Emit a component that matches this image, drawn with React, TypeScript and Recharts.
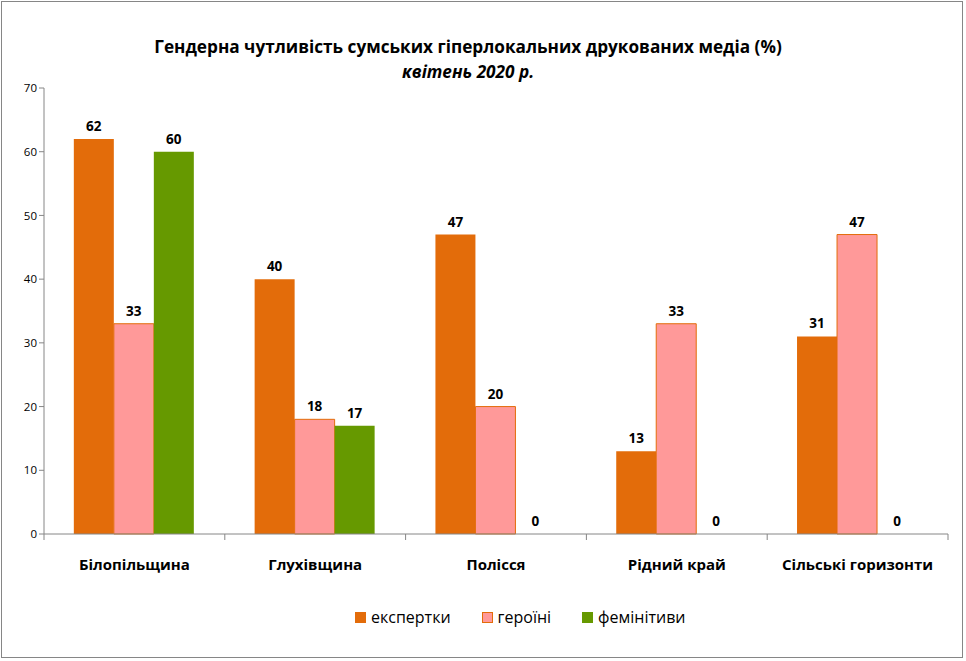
import React from "react";
import { BarChart, Bar, XAxis, YAxis, Legend, LabelList } from "recharts";

const categories = ["Білопільщина", "Глухівщина", "Полісся", "Рідний край", "Сільські горизонти"];
const experts = [62, 40, 47, 13, 31];
const heroines = [33, 18, 20, 33, 47];
const feminitives = [60, 17, 0, 0, 0];
const yTicks = [0, 10, 20, 30, 40, 50, 60, 70];
const seriesNames = ["експертки", "героїні", "фемінітиви"];
const titleLine1 = "Гендерна чутливість сумських гіперлокальних друкованих медіа (%)";
const titleLine2 = "квітень 2020 р.";

const data = categories.map((c, i) => ({
  name: c,
  e: experts[i],
  h: heroines[i],
  f: feminitives[i],
}));

const FONT = "'Open Sans', 'Noto Sans', sans-serif";
const ORANGE = "#E36C0A";
const PINK = "#FF9999";
const GREEN = "#669900";
const AXIS = "#868686";

const PLOT_LEFT = 44;
const PLOT_RIGHT = 948;
const HALF_BAND = (PLOT_RIGHT - PLOT_LEFT) / categories.length / 2;

const CatTick = (props: any) => {
  const { x, y, payload, index } = props;
  const isLast = index === categories.length - 1;
  return (
    <g>
      <line x1={x - HALF_BAND} x2={x - HALF_BAND} y1={y - 8} y2={y - 2} stroke={AXIS} />
      {isLast && <line x1={x + HALF_BAND} x2={x + HALF_BAND} y1={y - 8} y2={y - 2} stroke={AXIS} />}
      <text x={x} y={y + 28} textAnchor="middle" fontFamily={FONT} fontWeight="bold" fontSize={15} fill="#000">
        {payload.value}
      </text>
    </g>
  );
};

const colors = [ORANGE, PINK, GREEN];

const LegendContent = () => (
  <div style={{ display: "flex", justifyContent: "flex-start", gap: 31, fontFamily: FONT, fontSize: 16, color: "#000", paddingLeft: 355 }}>
    {seriesNames.map((n, i) => (
      <div key={n} style={{ display: "flex", alignItems: "center" }}>
        <span
          style={{
            display: "inline-block",
            width: i === 1 ? 9 : 11,
            height: i === 1 ? 9 : 11,
            background: colors[i],
            border: i === 1 ? `1px solid ${ORANGE}` : "none",
            marginRight: 5,
          }}
        />
        <span>{n}</span>
      </div>
    ))}
  </div>
);

const labelProps = { position: "top" as const, offset: 8, fontFamily: FONT, fontWeight: "bold", fontSize: 13.5, fill: "#000" };

export default function App() {
  return (
    <div style={{ position: "absolute", left: 0, top: 0, width: 966, height: 661, background: "#fff" }}>
      <div
        style={{
          position: "absolute",
          left: 1,
          top: 1,
          width: 962,
          height: 657,
          border: `1px solid ${AXIS}`,
          boxSizing: "border-box",
          pointerEvents: "none",
        }}
      />
      <div
        style={{
          position: "absolute",
          left: 0,
          width: 936,
          top: 34,
          textAlign: "center",
          fontFamily: FONT,
          fontWeight: "bold",
          fontSize: 17.2,
          lineHeight: "25px",
          color: "#000",
        }}
      >
        <div>{titleLine1}</div>
        <div style={{ fontStyle: "italic" }}>{titleLine2}</div>
      </div>
      <BarChart
        width={966}
        height={661}
        data={data}
        margin={{ top: 88, right: 18, left: 0, bottom: 56 }}
        barCategoryGap="16.5%"
        barGap={0}
        style={{ position: "absolute", left: 0, top: 0 }}
      >
        <YAxis
          width={44}
          domain={[0, 70]}
          ticks={yTicks}
          interval={0}
          axisLine={{ stroke: AXIS }}
          tickLine={{ stroke: AXIS }}
          tickSize={5}
          tick={{ fontFamily: FONT, fontSize: 11.5, fill: "#000" }}
        />
        <XAxis
          dataKey="name"
          height={45}
          interval={0}
          axisLine={{ stroke: AXIS }}
          tickLine={false}
          tick={<CatTick />}
        />
        <Legend
          content={<LegendContent />}
          wrapperStyle={{ top: 606, left: 0, width: 966, height: 26 }}
        />
        <Bar dataKey="e" name={seriesNames[0]} fill={ORANGE} minPointSize={0.01} isAnimationActive={false}>
          <LabelList dataKey="e" {...labelProps} />
        </Bar>
        <Bar dataKey="h" name={seriesNames[1]} fill={PINK} stroke={ORANGE} strokeWidth={1} minPointSize={0.01} isAnimationActive={false}>
          <LabelList dataKey="h" {...labelProps} />
        </Bar>
        <Bar dataKey="f" name={seriesNames[2]} fill={GREEN} minPointSize={0.01} isAnimationActive={false}>
          <LabelList dataKey="f" {...labelProps} />
        </Bar>
      </BarChart>
    </div>
  );
}
